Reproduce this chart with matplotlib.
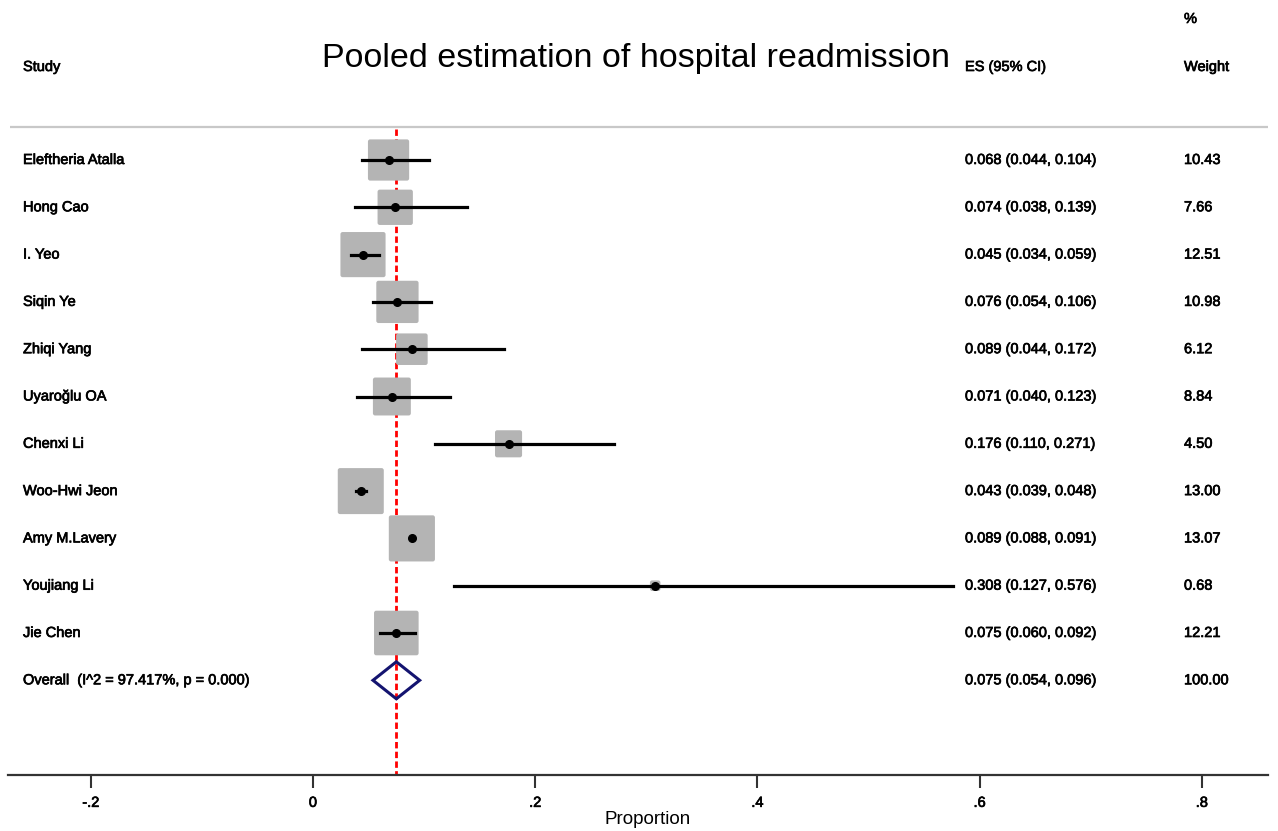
import numpy as np
import matplotlib
matplotlib.use('Agg')
import matplotlib.pyplot as plt
import matplotlib.patheffects as pe
from matplotlib.patches import FancyBboxPatch, Polygon

plt.rcParams['font.family'] = ['Liberation Sans', 'DejaVu Sans']

# study data
studies = ['Eleftheria Atalla', 'Hong Cao', 'I. Yeo', 'Siqin Ye', 'Zhiqi Yang',
           'Uyaroğlu OA', 'Chenxi Li', 'Woo-Hwi Jeon', 'Amy M.Lavery',
           'Youjiang Li', 'Jie Chen']
es = [0.068, 0.074, 0.045, 0.076, 0.089, 0.071, 0.176, 0.043, 0.089, 0.308, 0.075]
lo = [0.044, 0.038, 0.034, 0.054, 0.044, 0.040, 0.110, 0.039, 0.088, 0.127, 0.060]
hi = [0.104, 0.139, 0.059, 0.106, 0.172, 0.123, 0.271, 0.048, 0.091, 0.576, 0.092]
weights = [10.43, 7.66, 12.51, 10.98, 6.12, 8.84, 4.50, 13.00, 13.07, 0.68, 12.21]

overall_label = 'Overall  (I^2 = 97.417%, p = 0.000)'
overall_es, overall_lo, overall_hi = 0.075, 0.054, 0.096
overall_w = 100.00

xticks = [-0.2, 0, 0.2, 0.4, 0.6, 0.8]
xticklabels = ['-.2', '0', '.2', '.4', '.6', '.8']

# pixel scales of the layout
px_x = 1111.0   # px per unit proportion
px_row = 47.3   # px per row

thick = [pe.withStroke(linewidth=0.5, foreground='black')]

fig = plt.figure(figsize=(12.78, 8.31), dpi=100)
ax = fig.add_axes([8/1278, (831-775)/831, 1260/1278, 775/831])
ax.set_xlim((8-313)/px_x, (1268-313)/px_x)
ax.set_ylim((775-160)/px_row, -160/px_row)

for s in ['top', 'left', 'right']:
    ax.spines[s].set_visible(False)
ax.spines['bottom'].set_color('#333333')
ax.spines['bottom'].set_linewidth(1.6)
ax.set_yticks([])
ax.set_xticks(xticks)
ax.set_xticklabels(xticklabels, fontsize=10.5)
for t in ax.get_xticklabels():
    t.set_path_effects(thick)
ax.tick_params(axis='x', length=9, width=1.5, color='#333333', pad=6)

fs = 10.5
x_study = (23-313)/px_x
x_es = (965-313)/px_x
x_w = (1184-313)/px_x

def txt(x, y, s, **kw):
    ax.text(x, y, s, fontsize=fs, va='center', ha='left', path_effects=thick, **kw)

# headers
txt(x_study, (67-160)/px_row, 'Study')
txt(x_es, (67-160)/px_row, 'ES (95% CI)')
txt(x_w, (19-160)/px_row, '%')
txt(x_w, (67-160)/px_row, 'Weight')
ax.text((636-313)/px_x, (58-160)/px_row, 'Pooled estimation of hospital readmission',
        fontsize=24.5, va='center', ha='center')

ax.plot([(10-313)/px_x, (1268-313)/px_x], [(127-160)/px_row]*2,
        color='#c8c8c8', lw=1.6, solid_capstyle='butt')

# pooled line
ax.plot([overall_es, overall_es], [(129-160)/px_row, (775-160)/px_row],
        color='#ff0000', lw=2.0, ls=(0, (2.3, 1.2)), zorder=1)

for i in range(len(studies)):
    side = 12.76*np.sqrt(weights[i])
    w = side/px_x
    h = side/px_row
    ax.add_patch(FancyBboxPatch((es[i]-w/2, i-h/2), w, h,
                                boxstyle='round,pad=0,rounding_size=0.002',
                                mutation_aspect=px_x/px_row,
                                facecolor='#b4b4b4', edgecolor='none', zorder=2))
    ax.plot([lo[i], hi[i]], [i, i], color='black', lw=2.3, zorder=3)
    ax.plot(es[i], i, marker='o', color='black', ms=5.5, zorder=4)
    txt(x_study, i, studies[i])
    txt(x_es, i, f'{es[i]:.3f} ({lo[i]:.3f}, {hi[i]:.3f})')
    txt(x_w, i, f'{weights[i]:.2f}')

yo = len(studies)
dh = 18.5/px_row
ax.add_patch(Polygon([(overall_lo, yo), (overall_es, yo-dh), (overall_hi, yo),
                      (overall_es, yo+dh)], closed=True, fill=False,
                     edgecolor='#141470', lw=2.2, zorder=3))
txt(x_study, yo, overall_label)
txt(x_es, yo, f'{overall_es:.3f} ({overall_lo:.3f}, {overall_hi:.3f})')
txt(x_w, yo, f'{overall_w:.2f}')

ax.text((648-313)/px_x, -45/775, 'Proportion', fontsize=13.5, ha='center', va='center',
        transform=ax.get_xaxis_transform())

fig.savefig('out.png', dpi=100)
